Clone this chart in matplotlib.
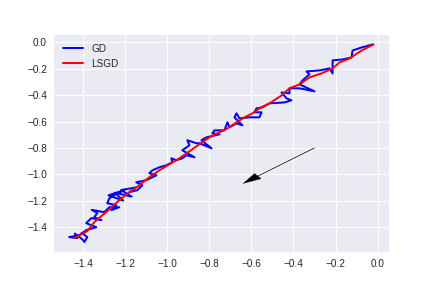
import matplotlib
matplotlib.use("Agg")
import matplotlib.pyplot as plt

plt.style.use("seaborn-v0_8")

# GD path (jagged)
gd_x = [-0.024, -0.076, -0.119, -0.124, -0.167, -0.214, -0.214, -0.229, -0.276, -0.338,
        -0.324, -0.357, -0.371, -0.300, -0.371, -0.419, -0.419, -0.457, -0.433, -0.410,
        -0.443, -0.514, -0.548, -0.576, -0.586, -0.552, -0.562, -0.610, -0.657, -0.671,
        -0.681, -0.643, -0.671, -0.705, -0.714, -0.729, -0.776, -0.786, -0.752, -0.814,
        -0.838, -0.790, -0.848, -0.862, -0.905, -0.895, -0.929, -0.871, -0.910, -0.929,
        -0.957, -0.981, -0.976, -1.005, -1.038, -1.071, -1.086, -1.052, -1.100, -1.148,
        -1.119, -1.143, -1.181, -1.150, -1.220, -1.170, -1.250, -1.210, -1.280, -1.205,
        -1.238, -1.276, -1.286, -1.243, -1.267, -1.229, -1.276, -1.300, -1.360, -1.333,
        -1.348, -1.314, -1.362, -1.386, -1.338, -1.386, -1.419, -1.467, -1.429, -1.440,
        -1.400, -1.395, -1.381, -1.405]
gd_y = [-0.015, -0.038, -0.061, -0.114, -0.129, -0.136, -0.235, -0.197, -0.212, -0.220,
        -0.242, -0.288, -0.318, -0.371, -0.348, -0.348, -0.386, -0.379, -0.424, -0.439,
        -0.455, -0.462, -0.492, -0.500, -0.530, -0.530, -0.568, -0.568, -0.576, -0.538,
        -0.568, -0.629, -0.614, -0.644, -0.606, -0.667, -0.667, -0.689, -0.697, -0.720,
        -0.742, -0.803, -0.765, -0.765, -0.742, -0.780, -0.818, -0.871, -0.856, -0.879,
        -0.894, -0.879, -0.909, -0.932, -0.947, -0.970, -0.992, -1.008, -1.045, -1.061,
        -1.083, -1.121, -1.136, -1.100, -1.120, -1.170, -1.140, -1.200, -1.160, -1.121,
        -1.144, -1.182, -1.220, -1.235, -1.273, -1.250, -1.250, -1.288, -1.270, -1.295,
        -1.326, -1.348, -1.333, -1.371, -1.402, -1.424, -1.462, -1.477, -1.485, -1.450,
        -1.500, -1.515, -1.477, -1.447]

# LSGD path (smoother)
lsgd_x = [-0.019, -0.076, -0.133, -0.181, -0.214, -0.267, -0.324, -0.371, -0.419, -0.457,
          -0.514, -0.562, -0.595, -0.633, -0.671, -0.714, -0.752, -0.800, -0.848, -0.895,
          -0.943, -0.990, -1.038, -1.086, -1.133, -1.181, -1.229, -1.286, -1.348, -1.381,
          -1.443]
lsgd_y = [-0.015, -0.061, -0.121, -0.152, -0.197, -0.235, -0.265, -0.318, -0.348, -0.402,
          -0.462, -0.500, -0.538, -0.568, -0.606, -0.652, -0.682, -0.720, -0.773, -0.826,
          -0.879, -0.924, -0.970, -1.023, -1.083, -1.136, -1.197, -1.280, -1.364, -1.432,
          -1.485]

# arrow start and offset
arrow_start = (-0.3, -0.8)
arrow_delta = (-0.34, -0.27)

fig, ax = plt.subplots(figsize=(6, 4), dpi=72)
fig.subplots_adjust(left=0.125, right=0.9, top=0.88, bottom=0.125)

ax.plot(gd_x, gd_y, color="blue", linewidth=2, label="GD")
ax.plot(lsgd_x, lsgd_y, color="red", linewidth=2, label="LSGD")
ax.arrow(arrow_start[0], arrow_start[1], arrow_delta[0], arrow_delta[1],
         width=0.001, head_width=0.05, head_length=0.09,
         length_includes_head=True, fc="k", ec="k")
ax.legend(loc="upper left")

fig.savefig("out.png", dpi=72)
